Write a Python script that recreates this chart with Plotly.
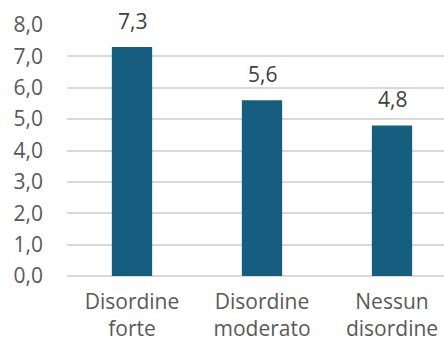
import plotly.graph_objects as go

categories = ["Disordine<br>forte", "Disordine<br>moderato", "Nessun<br>disordine"]
values = [7.3, 5.6, 4.8]
y_ticks = [0, 1, 2, 3, 4, 5, 6, 7, 8]
y_tick_labels = ["0,0", "1,0", "2,0", "3,0", "4,0", "5,0", "6,0", "7,0", "8,0"]

def fmt(v):
    return f"{v:.1f}".replace(".", ",")

fig = go.Figure(
    go.Bar(
        x=list(range(len(categories))),
        y=values,
        width=0.31,
        marker=dict(color="#165E80", line=dict(width=0)),
        hoverinfo="skip",
    )
)

for i, v in enumerate(values):
    fig.add_annotation(
        x=i, y=v, text=fmt(v), showarrow=False,
        yanchor="bottom", yshift=10,
        font=dict(family="Open Sans", size=21, color="#404040"),
    )

fig.update_layout(
    width=444, height=344,
    margin=dict(l=67, r=0, t=25, b=67.5),
    paper_bgcolor="white", plot_bgcolor="white",
    showlegend=False,
    font=dict(family="Open Sans", size=21, color="#595959"),
    xaxis=dict(
        range=[-0.5, 2.4],
        tickmode="array",
        tickvals=list(range(len(categories))),
        ticktext=categories,
        showgrid=False, zeroline=False, showline=False,
        ticks="", ticklabelstandoff=11, automargin=False,
        tickfont=dict(size=21, color="#595959"),
        fixedrange=True,
    ),
    yaxis=dict(
        range=[0, 8],
        tickmode="array",
        tickvals=y_ticks,
        ticktext=y_tick_labels,
        showgrid=True, gridcolor="#D9D9D9", gridwidth=1.5,
        zeroline=True, zerolinecolor="#D9D9D9", zerolinewidth=1.5,
        showline=False, ticks="", ticklabelstandoff=23, automargin=False,
        tickfont=dict(size=21, color="#595959"),
        fixedrange=True,
    ),
)

fig.write_html("out.html")
